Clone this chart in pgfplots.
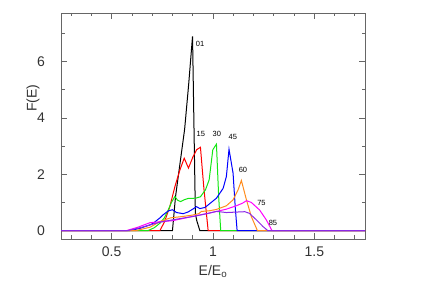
\documentclass[border=0pt]{standalone}
\usepackage{pgfplots}
\pgfplotsset{compat=1.18}
\usepackage{fontspec}
\setmainfont{Liberation Sans}
\definecolor{cgreen}{RGB}{20,230,20}
\definecolor{corange}{RGB}{255,140,30}
\definecolor{cmag}{RGB}{255,0,255}
\definecolor{cpurp}{RGB}{140,40,230}
\begin{document}
\begin{tikzpicture}
\path[use as bounding box] (-61pt,-49pt) rectangle (361pt,239pt);
\begin{axis}[
  at={(0pt,0pt)}, anchor=south west,
  scale only axis, width=304pt, height=226pt,
  xmin=0.25, xmax=1.75, ymin=-0.3, ymax=7.73,
  xtick={0.5,1,1.5}, xticklabels={0.5,1,1.5},
  minor xtick={0.3,0.4,0.6,0.7,0.8,0.9,1.1,1.2,1.3,1.4,1.6,1.7},
  ytick={0,2,4,6}, yticklabels={0,2,4,6},
  minor ytick={1,3,5,7},
  tick align=inside, xtick pos=both, ytick pos=both,
  major tick length=6pt, minor tick length=3.5pt,
  axis line style={black!60, line width=0.8pt},
  every tick/.style={black!60, line width=0.8pt},
  tick label style={font=\fontsize{14}{16}\selectfont, text=black!80},
  xticklabel style={inner sep=0pt, anchor=north, yshift=-8pt},
  yticklabel style={inner sep=0pt, anchor=east, xshift=-16pt},
  xlabel={E/E\textsubscript{o}},
  ylabel={F(E)},
  label style={font=\fontsize{14}{16}\selectfont, text=black!80},
  xlabel style={at={(axis description cs:0.5,-0.145)}, anchor=center},
  ylabel style={at={(axis description cs:-0.092,0.624)}, anchor=center, rotate=0},
  every axis plot/.append style={line width=1pt, mark=none},
  clip=true,
]
\addplot[black] coordinates {(0.25,0) (0.80,0) (0.815,1.2) (0.83,2.0) (0.86,3.6) (0.88,5.2) (0.899,6.9) (0.913,0.6) (0.92,0.35) (0.935,0) (1.75,0)};
\addplot[red] coordinates {(0.25,0) (0.738,0) (0.76,0.3) (0.787,0.85) (0.812,1.56) (0.837,2.16) (0.858,2.57) (0.879,2.22) (0.90,2.6) (0.919,2.87) (0.938,2.96) (0.955,1.5) (0.976,0) (1.75,0)};
\addplot[cgreen] coordinates {(0.25,0) (0.68,0) (0.71,0.1) (0.738,0.26) (0.76,0.45) (0.779,0.73) (0.795,1.0) (0.812,1.21) (0.825,1.08) (0.84,1.03) (0.86,1.1) (0.877,1.14) (0.914,1.15) (0.938,1.2) (0.963,1.45) (0.981,1.8) (0.999,2.87) (1.017,3.07) (1.028,1.2) (1.038,0) (1.75,0)};
\addplot[blue] coordinates {(0.25,0) (0.59,0) (0.64,0.08) (0.689,0.2) (0.705,0.26) (0.738,0.45) (0.754,0.56) (0.78,0.7) (0.80,0.74) (0.82,0.64) (0.853,0.6) (0.877,0.66) (0.90,0.76) (0.919,0.85) (0.935,0.78) (0.96,0.82) (0.976,0.91) (1.017,1.15) (1.05,1.5) (1.066,1.92) (1.079,2.89) (1.099,2.04) (1.11,0.8) (1.119,0) (1.75,0)};
\addplot[corange] coordinates {(0.25,0) (0.62,0) (0.69,0.12) (0.738,0.32) (0.79,0.45) (0.85,0.5) (0.899,0.55) (0.93,0.6) (0.943,0.68) (0.98,0.7) (1.017,0.75) (1.066,0.88) (1.099,1.09) (1.124,1.45) (1.14,1.78) (1.165,1.09) (1.189,0.5) (1.219,0) (1.75,0)};
\addplot[cmag] coordinates {(0.25,0) (0.574,0) (0.63,0.12) (0.689,0.28) (0.80,0.35) (0.899,0.5) (0.981,0.62) (1.066,0.76) (1.115,0.88) (1.145,0.97) (1.165,1.06) (1.189,1.0) (1.23,0.73) (1.263,0.38) (1.291,0) (1.75,0)};
\addplot[cpurp] coordinates {(0.25,0) (0.58,0) (0.64,0.1) (0.689,0.2) (0.74,0.3) (0.80,0.38) (0.90,0.5) (0.97,0.6) (1.017,0.68) (1.066,0.64) (1.157,0.67) (1.18,0.61) (1.214,0.38) (1.247,0.14) (1.27,0) (1.75,0)};
\begin{scope}[every node/.style={font=\fontsize{7.5}{8.5}\selectfont, inner sep=0pt}]
\node at (axis cs:0.936,6.63) {01};
\node at (axis cs:0.94,3.43) {15};
\node at (axis cs:1.019,3.43) {30};
\node at (axis cs:1.098,3.34) {45};
\node at (axis cs:1.148,2.16) {60};
\node at (axis cs:1.239,0.97) {75};
\node at (axis cs:1.296,0.28) {85};
\end{scope}
\end{axis}
\end{tikzpicture}
\end{document}
